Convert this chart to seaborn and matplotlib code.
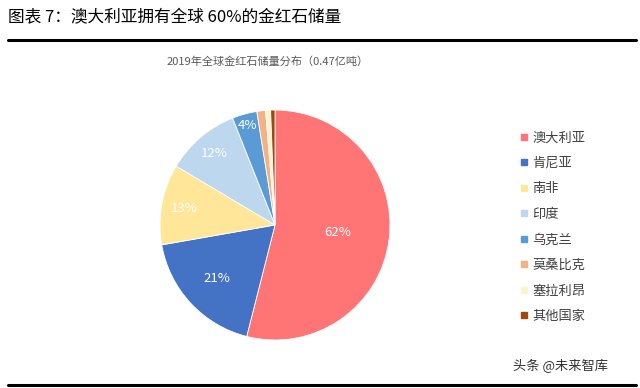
import numpy as np
import matplotlib
matplotlib.use("Agg")
import matplotlib.pyplot as plt
import seaborn as sns
from matplotlib.lines import Line2D

sns.set_theme(style="white")
plt.rcParams['font.family'] = ['Noto Sans CJK SC', 'DejaVu Sans']

# data
countries = ["澳大利亚", "肯尼亚", "南非", "印度", "乌克兰", "莫桑比克", "塞拉利昂", "其他国家"]
reserves = [62, 21, 13, 12, 4, 1.4, 0.8, 0.7]
pct_labels = ["62%", "21%", "13%", "12%", "4%", "", "", ""]
colors = ["#FF7575", "#4472C4", "#FFE699", "#BDD7EE", "#5B9BD5", "#F4B183", "#FFF2CC", "#9E480E"]
label_r = [0.55, 0.69, 0.8, 0.82, 0.9, 0, 0, 0]

fig = plt.figure(figsize=(6.4, 3.88), dpi=100)

# pie axes: centre ~ (275, 225) px, radius ~115 px
cx, cy, r = 275, 225, 115
ax = fig.add_axes([(cx - r) / 640, (388 - cy - r) / 388, 2 * r / 640, 2 * r / 388])
wedges, _ = ax.pie(reserves, colors=colors, startangle=90, counterclock=False,
                   radius=1, wedgeprops=dict(linewidth=0.6, edgecolor="white"))
ax.set_xlim(-1, 1)
ax.set_ylim(-1, 1)
ax.set_aspect("equal")
ax.axis("off")

for w, lab, rr in zip(wedges, pct_labels, label_r):
    if not lab:
        continue
    ang = np.deg2rad((w.theta1 + w.theta2) / 2)
    ax.text(rr * np.cos(ang), rr * np.sin(ang), lab, color="white",
            fontsize=9.5, ha="center", va="center")

# legend
handles = [Line2D([], [], marker="s", linestyle="none", markersize=5,
                  markerfacecolor=c, markeredgecolor=c) for c in colors]
fig.legend(handles, countries, loc="upper left", bbox_to_anchor=(515 / 640, 1 - 126 / 388),
           frameon=False, fontsize=9.5, labelcolor="#404040", handlelength=0.6,
           handletextpad=0.3, labelspacing=0.95, borderaxespad=0)

# titles and decorations
fig.text(8 / 640, 1 - 18 / 388, "图表 7：澳大利亚拥有全球 60%的金红石储量",
         fontsize=12, fontweight="medium", color="#000000", va="center", ha="left")
fig.text(268 / 640, 1 - 62 / 388, "2019年全球金红石储量分布（0.47亿吨）",
         fontsize=8, color="#595959", va="center", ha="center")
fig.text(608 / 640, 1 - 366 / 388, "头条 @未来智库",
         fontsize=9.5, color="#333333", va="center", ha="right")
fig.add_artist(Line2D([8 / 640, 636 / 640], [1 - 40 / 388, 1 - 40 / 388],
                      color="black", linewidth=2.2))
fig.add_artist(Line2D([8 / 640, 636 / 640], [1 - 385 / 388, 1 - 385 / 388],
                      color="black", linewidth=2.2))

fig.savefig("out.png", dpi=100, facecolor="white")
